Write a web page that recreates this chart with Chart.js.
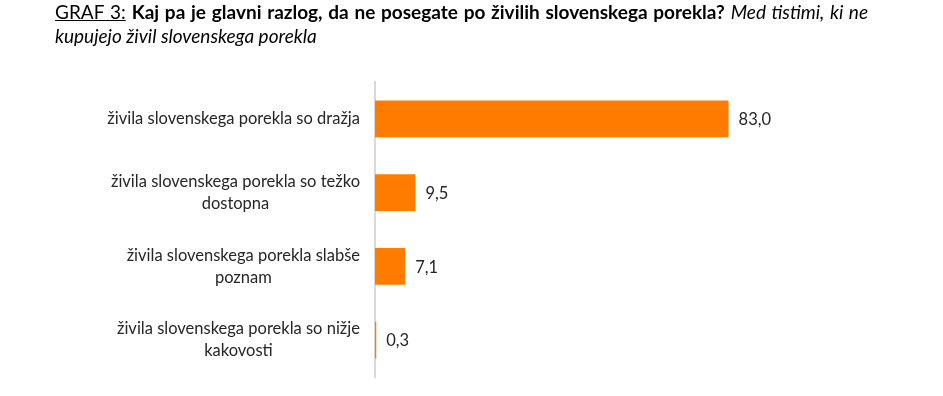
<!DOCTYPE html>
<html>
<head>
<meta charset="utf-8">
<script src="https://cdn.jsdelivr.net/npm/chart.js@4.4.0/dist/chart.umd.min.js"></script>
<style>
  html, body { margin: 0; padding: 0; background: #fff; }
  #wrap { position: relative; width: 943px; height: 396px; overflow: hidden; }
  #chart { position: absolute; left: 0; top: 0; }
  .title { position: absolute; left: 55px; width: 813px; font-family: Lato, sans-serif; font-size: 19px; color: #000; white-space: nowrap; }
  #t1 { top: 0px; text-align: justify; text-align-last: justify; white-space: normal; }
  #t2 { top: 24px; }
  .u { text-decoration: underline; }
</style>
</head>
<body>
<div id="wrap">
  <canvas id="chart" width="943" height="396"></canvas>
  <div class="title" id="t1"><span class="u">GRAF 3:</span> <b>Kaj pa je glavni razlog, da ne posegate po živilih slovenskega porekla?</b> <i>Med tistimi, ki ne</i></div>
  <div class="title" id="t2"><i>kupujejo živil slovenskega porekla</i></div>
</div>
<script>
// Data
const categories = [
  ['živila slovenskega porekla so dražja'],
  ['živila slovenskega porekla so težko', 'dostopna'],
  ['živila slovenskega porekla slabše', 'poznam'],
  ['živila slovenskega porekla so nižje', 'kakovosti']
];
const values = [83.0, 9.5, 7.1, 0.3];

const barColor = '#ff7c00';
const textColor = '#262626';
const labelFont = '16.5px Lato, sans-serif';

// category labels: block right-aligned to the axis, lines centred inside the block
const categoryLabels = {
  id: 'categoryLabels',
  afterDraw(chart) {
    const ctx = chart.ctx;
    const yScale = chart.scales.y;
    const right = chart.chartArea.left - 15;
    const lineH = 22;
    ctx.save();
    ctx.font = labelFont;
    ctx.fillStyle = textColor;
    ctx.textAlign = 'center';
    ctx.textBaseline = 'middle';
    categories.forEach((lines, i) => {
      const y = yScale.getPixelForValue(i);
      const w = Math.max(...lines.map(l => ctx.measureText(l).width));
      const cx = right - w / 2;
      const top = y - (lines.length - 1) * lineH / 2;
      lines.forEach((l, k) => ctx.fillText(l, cx, top + k * lineH));
    });
    ctx.restore();
  }
};

// value labels at the end of each bar, with decimal comma
const valueLabels = {
  id: 'valueLabels',
  afterDatasetsDraw(chart) {
    const ctx = chart.ctx;
    const meta = chart.getDatasetMeta(0);
    ctx.save();
    ctx.font = labelFont;
    ctx.fillStyle = textColor;
    ctx.textAlign = 'left';
    ctx.textBaseline = 'middle';
    meta.data.forEach((bar, i) => {
      ctx.fillText(values[i].toFixed(1).replace('.', ','), bar.x + 10, bar.y + 1);
    });
    ctx.restore();
  }
};

new Chart(document.getElementById('chart'), {
  type: 'bar',
  data: {
    labels: categories.map(c => c.join(' ')),
    datasets: [{
      data: values,
      backgroundColor: barColor,
      borderWidth: 0,
      categoryPercentage: 1,
      barPercentage: 0.5
    }]
  },
  options: {
    indexAxis: 'y',
    responsive: false,
    animation: false,
    layout: { padding: { left: 367, right: 142, top: 82, bottom: 19 } },
    plugins: { legend: { display: false }, tooltip: { enabled: false } },
    scales: {
      x: {
        min: 0,
        max: 100,
        display: false
      },
      y: {
        z: 1,
        grid: { display: false },
        ticks: { display: false },
        border: { display: true, color: '#d9d9d9', width: 2 }
      }
    }
  },
  plugins: [categoryLabels, valueLabels]
});
</script>
</body>
</html>
